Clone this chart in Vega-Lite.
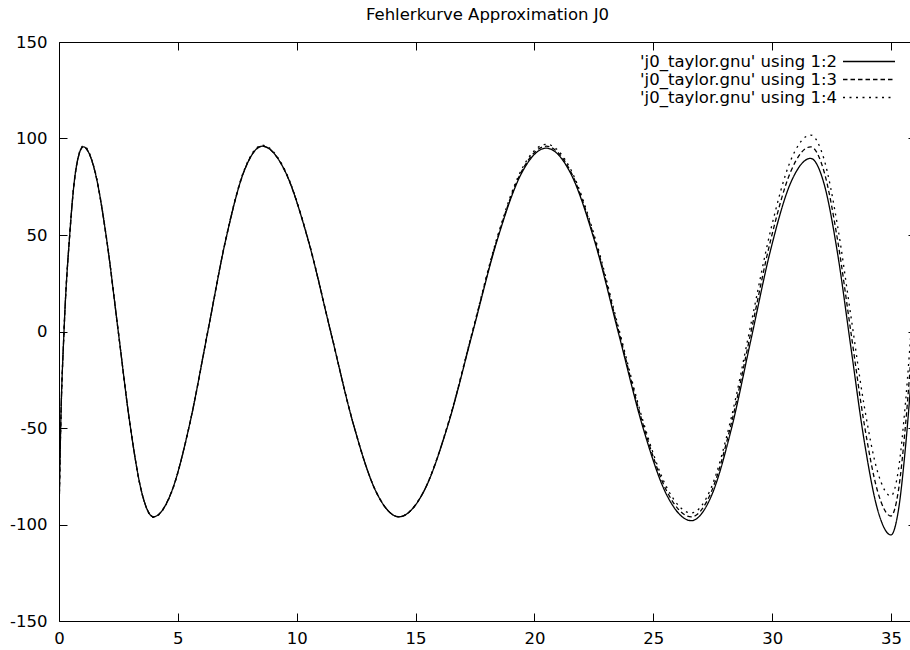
{
  "$schema": "https://vega.github.io/schema/vega-lite/v6.json",
  "width": 851,
  "height": 579,
  "autosize": {"type": "none"},
  "padding": {"left": 59, "top": 42, "right": 0, "bottom": 29},
  "background": "white",
  "title": {"text": "Fehlerkurve Approximation J0", "font": "DejaVu Sans", "fontSize": 16.5, "fontWeight": "normal", "color": "black", "anchor": "middle", "dx": 3, "offset": 11},
  "config": {
    "view": {"stroke": null},
    "axis": {"grid": false, "domainColor": "black", "tickColor": "black", "labelColor": "black", "labelFont": "DejaVu Sans", "labelFontSize": 16.5, "title": null}
  },
  "data": {"values": [
    {"s": "'j0_taylor.gnu' using 1:2", "x": 0, "y": -96},
    {"s": "'j0_taylor.gnu' using 1:2", "x": 0.07, "y": -50},
    {"s": "'j0_taylor.gnu' using 1:2", "x": 0.21, "y": 0},
    {"s": "'j0_taylor.gnu' using 1:2", "x": 0.45, "y": 50},
    {"s": "'j0_taylor.gnu' using 1:2", "x": 0.7, "y": 83},
    {"s": "'j0_taylor.gnu' using 1:2", "x": 1.02, "y": 95.7},
    {"s": "'j0_taylor.gnu' using 1:2", "x": 1.512, "y": 82.9},
    {"s": "'j0_taylor.gnu' using 1:2", "x": 2.003, "y": 47.8},
    {"s": "'j0_taylor.gnu' using 1:2", "x": 2.495, "y": -0.2},
    {"s": "'j0_taylor.gnu' using 1:2", "x": 2.987, "y": -48.1},
    {"s": "'j0_taylor.gnu' using 1:2", "x": 3.478, "y": -83.2},
    {"s": "'j0_taylor.gnu' using 1:2", "x": 3.97, "y": -96},
    {"s": "'j0_taylor.gnu' using 1:2", "x": 4.733, "y": -83.1},
    {"s": "'j0_taylor.gnu' using 1:2", "x": 5.497, "y": -48},
    {"s": "'j0_taylor.gnu' using 1:2", "x": 6.26, "y": 0},
    {"s": "'j0_taylor.gnu' using 1:2", "x": 7.023, "y": 48},
    {"s": "'j0_taylor.gnu' using 1:2", "x": 7.787, "y": 83.1},
    {"s": "'j0_taylor.gnu' using 1:2", "x": 8.55, "y": 96},
    {"s": "'j0_taylor.gnu' using 1:2", "x": 9.508, "y": 83.1},
    {"s": "'j0_taylor.gnu' using 1:2", "x": 10.467, "y": 48},
    {"s": "'j0_taylor.gnu' using 1:2", "x": 11.425, "y": 0},
    {"s": "'j0_taylor.gnu' using 1:2", "x": 12.383, "y": -48},
    {"s": "'j0_taylor.gnu' using 1:2", "x": 13.342, "y": -83.1},
    {"s": "'j0_taylor.gnu' using 1:2", "x": 14.3, "y": -96},
    {"s": "'j0_taylor.gnu' using 1:2", "x": 15.333, "y": -83.2},
    {"s": "'j0_taylor.gnu' using 1:2", "x": 16.367, "y": -48.3},
    {"s": "'j0_taylor.gnu' using 1:2", "x": 17.4, "y": -0.5},
    {"s": "'j0_taylor.gnu' using 1:2", "x": 18.433, "y": 47.3},
    {"s": "'j0_taylor.gnu' using 1:2", "x": 19.467, "y": 82.2},
    {"s": "'j0_taylor.gnu' using 1:2", "x": 20.5, "y": 95},
    {"s": "'j0_taylor.gnu' using 1:2", "x": 21.517, "y": 82.1},
    {"s": "'j0_taylor.gnu' using 1:2", "x": 22.533, "y": 46.8},
    {"s": "'j0_taylor.gnu' using 1:2", "x": 23.55, "y": -1.5},
    {"s": "'j0_taylor.gnu' using 1:2", "x": 24.567, "y": -49.8},
    {"s": "'j0_taylor.gnu' using 1:2", "x": 25.583, "y": -85.1},
    {"s": "'j0_taylor.gnu' using 1:2", "x": 26.6, "y": -98},
    {"s": "'j0_taylor.gnu' using 1:2", "x": 27.437, "y": -85.4},
    {"s": "'j0_taylor.gnu' using 1:2", "x": 28.273, "y": -51.1},
    {"s": "'j0_taylor.gnu' using 1:2", "x": 29.11, "y": -4.2},
    {"s": "'j0_taylor.gnu' using 1:2", "x": 29.947, "y": 42.8},
    {"s": "'j0_taylor.gnu' using 1:2", "x": 30.783, "y": 77.1},
    {"s": "'j0_taylor.gnu' using 1:2", "x": 31.62, "y": 89.7},
    {"s": "'j0_taylor.gnu' using 1:2", "x": 32.183, "y": 76.6},
    {"s": "'j0_taylor.gnu' using 1:2", "x": 32.747, "y": 40.9},
    {"s": "'j0_taylor.gnu' using 1:2", "x": 33.31, "y": -7.9},
    {"s": "'j0_taylor.gnu' using 1:2", "x": 33.873, "y": -56.6},
    {"s": "'j0_taylor.gnu' using 1:2", "x": 34.437, "y": -92.3},
    {"s": "'j0_taylor.gnu' using 1:2", "x": 35, "y": -105.4},
    {"s": "'j0_taylor.gnu' using 1:2", "x": 35.308, "y": -93},
    {"s": "'j0_taylor.gnu' using 1:2", "x": 35.617, "y": -59.1},
    {"s": "'j0_taylor.gnu' using 1:2", "x": 35.925, "y": -12.7},
    {"s": "'j0_taylor.gnu' using 1:2", "x": 36.233, "y": 33.7},
    {"s": "'j0_taylor.gnu' using 1:3", "x": 0, "y": -96},
    {"s": "'j0_taylor.gnu' using 1:3", "x": 0.07, "y": -50},
    {"s": "'j0_taylor.gnu' using 1:3", "x": 0.21, "y": 0},
    {"s": "'j0_taylor.gnu' using 1:3", "x": 0.45, "y": 50},
    {"s": "'j0_taylor.gnu' using 1:3", "x": 0.7, "y": 83},
    {"s": "'j0_taylor.gnu' using 1:3", "x": 1.02, "y": 95.7},
    {"s": "'j0_taylor.gnu' using 1:3", "x": 1.512, "y": 82.9},
    {"s": "'j0_taylor.gnu' using 1:3", "x": 2.003, "y": 47.8},
    {"s": "'j0_taylor.gnu' using 1:3", "x": 2.495, "y": -0.2},
    {"s": "'j0_taylor.gnu' using 1:3", "x": 2.987, "y": -48.1},
    {"s": "'j0_taylor.gnu' using 1:3", "x": 3.478, "y": -83.2},
    {"s": "'j0_taylor.gnu' using 1:3", "x": 3.97, "y": -96},
    {"s": "'j0_taylor.gnu' using 1:3", "x": 4.733, "y": -83.1},
    {"s": "'j0_taylor.gnu' using 1:3", "x": 5.497, "y": -48},
    {"s": "'j0_taylor.gnu' using 1:3", "x": 6.26, "y": 0},
    {"s": "'j0_taylor.gnu' using 1:3", "x": 7.023, "y": 48},
    {"s": "'j0_taylor.gnu' using 1:3", "x": 7.787, "y": 83.1},
    {"s": "'j0_taylor.gnu' using 1:3", "x": 8.55, "y": 96},
    {"s": "'j0_taylor.gnu' using 1:3", "x": 9.508, "y": 83.1},
    {"s": "'j0_taylor.gnu' using 1:3", "x": 10.467, "y": 48},
    {"s": "'j0_taylor.gnu' using 1:3", "x": 11.425, "y": 0},
    {"s": "'j0_taylor.gnu' using 1:3", "x": 12.383, "y": -48},
    {"s": "'j0_taylor.gnu' using 1:3", "x": 13.342, "y": -83.1},
    {"s": "'j0_taylor.gnu' using 1:3", "x": 14.3, "y": -96},
    {"s": "'j0_taylor.gnu' using 1:3", "x": 15.333, "y": -83.1},
    {"s": "'j0_taylor.gnu' using 1:3", "x": 16.367, "y": -48},
    {"s": "'j0_taylor.gnu' using 1:3", "x": 17.4, "y": 0},
    {"s": "'j0_taylor.gnu' using 1:3", "x": 18.433, "y": 48},
    {"s": "'j0_taylor.gnu' using 1:3", "x": 19.467, "y": 83.1},
    {"s": "'j0_taylor.gnu' using 1:3", "x": 20.5, "y": 96},
    {"s": "'j0_taylor.gnu' using 1:3", "x": 21.517, "y": 83.1},
    {"s": "'j0_taylor.gnu' using 1:3", "x": 22.533, "y": 48},
    {"s": "'j0_taylor.gnu' using 1:3", "x": 23.55, "y": 0},
    {"s": "'j0_taylor.gnu' using 1:3", "x": 24.567, "y": -48},
    {"s": "'j0_taylor.gnu' using 1:3", "x": 25.583, "y": -83.1},
    {"s": "'j0_taylor.gnu' using 1:3", "x": 26.6, "y": -96},
    {"s": "'j0_taylor.gnu' using 1:3", "x": 27.437, "y": -83.2},
    {"s": "'j0_taylor.gnu' using 1:3", "x": 28.273, "y": -48.1},
    {"s": "'j0_taylor.gnu' using 1:3", "x": 29.11, "y": -0.2},
    {"s": "'j0_taylor.gnu' using 1:3", "x": 29.947, "y": 47.8},
    {"s": "'j0_taylor.gnu' using 1:3", "x": 30.783, "y": 82.9},
    {"s": "'j0_taylor.gnu' using 1:3", "x": 31.62, "y": 95.7},
    {"s": "'j0_taylor.gnu' using 1:3", "x": 32.183, "y": 82.9},
    {"s": "'j0_taylor.gnu' using 1:3", "x": 32.747, "y": 47.9},
    {"s": "'j0_taylor.gnu' using 1:3", "x": 33.31, "y": 0},
    {"s": "'j0_taylor.gnu' using 1:3", "x": 33.873, "y": -47.8},
    {"s": "'j0_taylor.gnu' using 1:3", "x": 34.437, "y": -82.8},
    {"s": "'j0_taylor.gnu' using 1:3", "x": 35, "y": -95.6},
    {"s": "'j0_taylor.gnu' using 1:3", "x": 35.308, "y": -82.8},
    {"s": "'j0_taylor.gnu' using 1:3", "x": 35.617, "y": -47.7},
    {"s": "'j0_taylor.gnu' using 1:3", "x": 35.925, "y": 0.2},
    {"s": "'j0_taylor.gnu' using 1:3", "x": 36.233, "y": 48.1},
    {"s": "'j0_taylor.gnu' using 1:4", "x": 0, "y": -96},
    {"s": "'j0_taylor.gnu' using 1:4", "x": 0.07, "y": -50},
    {"s": "'j0_taylor.gnu' using 1:4", "x": 0.21, "y": 0},
    {"s": "'j0_taylor.gnu' using 1:4", "x": 0.45, "y": 50},
    {"s": "'j0_taylor.gnu' using 1:4", "x": 0.7, "y": 83.3},
    {"s": "'j0_taylor.gnu' using 1:4", "x": 1.02, "y": 96.2},
    {"s": "'j0_taylor.gnu' using 1:4", "x": 1.512, "y": 83.3},
    {"s": "'j0_taylor.gnu' using 1:4", "x": 2.003, "y": 48.1},
    {"s": "'j0_taylor.gnu' using 1:4", "x": 2.495, "y": 0},
    {"s": "'j0_taylor.gnu' using 1:4", "x": 2.987, "y": -48.2},
    {"s": "'j0_taylor.gnu' using 1:4", "x": 3.478, "y": -83.4},
    {"s": "'j0_taylor.gnu' using 1:4", "x": 3.97, "y": -96.3},
    {"s": "'j0_taylor.gnu' using 1:4", "x": 4.733, "y": -83.4},
    {"s": "'j0_taylor.gnu' using 1:4", "x": 5.497, "y": -48.1},
    {"s": "'j0_taylor.gnu' using 1:4", "x": 6.26, "y": 0.1},
    {"s": "'j0_taylor.gnu' using 1:4", "x": 7.023, "y": 48.3},
    {"s": "'j0_taylor.gnu' using 1:4", "x": 7.787, "y": 83.6},
    {"s": "'j0_taylor.gnu' using 1:4", "x": 8.55, "y": 96.5},
    {"s": "'j0_taylor.gnu' using 1:4", "x": 9.508, "y": 83.6},
    {"s": "'j0_taylor.gnu' using 1:4", "x": 10.467, "y": 48.4},
    {"s": "'j0_taylor.gnu' using 1:4", "x": 11.425, "y": 0.3},
    {"s": "'j0_taylor.gnu' using 1:4", "x": 12.383, "y": -47.9},
    {"s": "'j0_taylor.gnu' using 1:4", "x": 13.342, "y": -83.1},
    {"s": "'j0_taylor.gnu' using 1:4", "x": 14.3, "y": -96},
    {"s": "'j0_taylor.gnu' using 1:4", "x": 15.333, "y": -83.1},
    {"s": "'j0_taylor.gnu' using 1:4", "x": 16.367, "y": -47.8},
    {"s": "'j0_taylor.gnu' using 1:4", "x": 17.4, "y": 0.5},
    {"s": "'j0_taylor.gnu' using 1:4", "x": 18.433, "y": 48.8},
    {"s": "'j0_taylor.gnu' using 1:4", "x": 19.467, "y": 84.1},
    {"s": "'j0_taylor.gnu' using 1:4", "x": 20.5, "y": 97},
    {"s": "'j0_taylor.gnu' using 1:4", "x": 21.517, "y": 84.2},
    {"s": "'j0_taylor.gnu' using 1:4", "x": 22.533, "y": 49.3},
    {"s": "'j0_taylor.gnu' using 1:4", "x": 23.55, "y": 1.5},
    {"s": "'j0_taylor.gnu' using 1:4", "x": 24.567, "y": -46.3},
    {"s": "'j0_taylor.gnu' using 1:4", "x": 25.583, "y": -81.2},
    {"s": "'j0_taylor.gnu' using 1:4", "x": 26.6, "y": -94},
    {"s": "'j0_taylor.gnu' using 1:4", "x": 27.437, "y": -80.9},
    {"s": "'j0_taylor.gnu' using 1:4", "x": 28.273, "y": -45.1},
    {"s": "'j0_taylor.gnu' using 1:4", "x": 29.11, "y": 3.9},
    {"s": "'j0_taylor.gnu' using 1:4", "x": 29.947, "y": 52.9},
    {"s": "'j0_taylor.gnu' using 1:4", "x": 30.783, "y": 88.7},
    {"s": "'j0_taylor.gnu' using 1:4", "x": 31.62, "y": 101.8},
    {"s": "'j0_taylor.gnu' using 1:4", "x": 32.183, "y": 89.3},
    {"s": "'j0_taylor.gnu' using 1:4", "x": 32.747, "y": 55.1},
    {"s": "'j0_taylor.gnu' using 1:4", "x": 33.31, "y": 8.3},
    {"s": "'j0_taylor.gnu' using 1:4", "x": 33.873, "y": -38.5},
    {"s": "'j0_taylor.gnu' using 1:4", "x": 34.437, "y": -72.7},
    {"s": "'j0_taylor.gnu' using 1:4", "x": 35, "y": -85.2},
    {"s": "'j0_taylor.gnu' using 1:4", "x": 35.308, "y": -72},
    {"s": "'j0_taylor.gnu' using 1:4", "x": 35.617, "y": -35.9},
    {"s": "'j0_taylor.gnu' using 1:4", "x": 35.925, "y": 13.4},
    {"s": "'j0_taylor.gnu' using 1:4", "x": 36.233, "y": 62.7}
  ]},
  "layer": [
    {
      "mark": {"type": "line", "color": "black", "strokeWidth": 1.3, "interpolate": "monotone", "clip": true},
      "encoding": {
        "x": {"field": "x", "type": "quantitative",
              "scale": {"domain": [0, 35.8], "nice": false, "zero": false},
              "axis": {"orient": "bottom", "values": [0, 5, 10, 15, 20, 25, 30, 35], "tickSize": -8, "labelPadding": 17, "labelFlush": false, "labelExpr": "'' + datum.value"}},
        "y": {"field": "y", "type": "quantitative",
              "scale": {"domain": [-150, 150], "nice": false},
              "axis": {"orient": "left", "values": [-150, -100, -50, 0, 50, 100, 150], "tickSize": -8, "labelPadding": 20, "labelFlush": false, "labelExpr": "'' + datum.value"}},
        "strokeDash": {"field": "s", "type": "nominal",
              "scale": {"domain": ["'j0_taylor.gnu' using 1:2", "'j0_taylor.gnu' using 1:3", "'j0_taylor.gnu' using 1:4"], "range": [[1, 0], [4.5, 3], [2, 4.5]]},
              "legend": {"title": null, "orient": "none", "legendX": 801.5, "legendY": 11, "symbolType": "M-3.4667,0H3.4667", "symbolSize": 225, "symbolStrokeWidth": 1.3, "symbolStrokeColor": "black", "symbolFillColor": "transparent", "symbolOpacity": 1, "labelAlign": "right", "labelOffset": -40.5, "labelLimit": 400, "labelFont": "DejaVu Sans", "labelFontSize": 16.5, "labelColor": "black", "rowPadding": 1, "padding": 0}}
      }
    },
    {
      "mark": {"type": "point", "opacity": 0},
      "encoding": {
        "x": {"field": "x", "type": "quantitative",
              "axis": {"orient": "top", "values": [0, 5, 10, 15, 20, 25, 30, 35], "tickSize": -8, "labels": false}},
        "y": {"field": "y", "type": "quantitative",
              "axis": {"orient": "right", "values": [-150, -100, -50, 0, 50, 100, 150], "tickSize": -2, "labels": false, "domain": false}}
      }
    }
  ],
  "resolve": {"axis": {"x": "independent", "y": "independent"}}
}
